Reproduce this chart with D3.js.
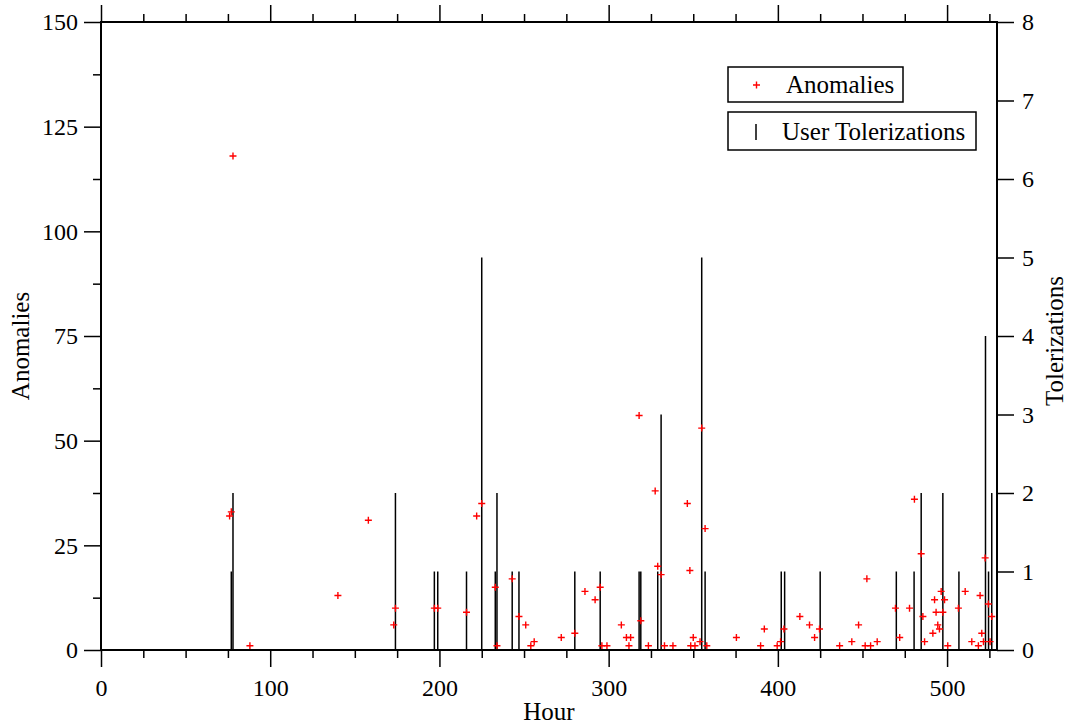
<!DOCTYPE html>
<html>
<head>
<meta charset="utf-8">
<script src="https://cdn.jsdelivr.net/npm/d3@7"></script>
<style>
  body { margin: 0; background: #fff; }
  svg text { font-family: "Liberation Serif", "DejaVu Serif", serif; fill: #000; }
</style>
</head>
<body>
<div id="chart"></div>
<script>
// anomalies per hour (left axis)
const anomalyHours = [76, 77, 78, 88, 140, 158, 173, 174, 197, 199, 216, 222, 225, 233, 234, 243, 247, 251, 254, 256,
  272, 280, 286, 292, 295, 296, 299, 307.5, 310.5, 312, 313, 318, 319, 323.5, 327.5, 329, 331, 333, 338,
  346.5, 348, 348.5, 350, 351, 354, 355, 357, 358, 375.5, 389.8, 392, 399.6, 401.6, 403.6, 413, 418.7, 421.7,
  424.6, 436.5, 443.7, 447.7, 451.6, 452.6, 454.8, 458.7, 469.5, 472, 477.8, 480.7, 484.7, 485.7, 486.7,
  491.6, 492.6, 493.5, 494.5, 495.5, 496.5, 497.5, 498.5, 500.4, 506.7, 510.7, 514.6, 518.5, 519.5, 520.5,
  521.5, 522.5, 524.4, 525.4, 526.4];
const anomalyCounts = [32, 33, 118, 1, 13, 31, 6, 10, 10, 10, 9, 32, 35, 15, 1, 17, 8, 6, 1, 2,
  3, 4, 14, 12, 15, 1, 1, 6, 3, 1, 3, 56, 7, 1, 38, 20, 18, 1, 1,
  35, 19, 1, 3, 1, 2, 53, 29, 1, 3, 1, 5, 1, 2, 5, 8, 6, 3,
  5, 1, 2, 6, 1, 17, 1, 2, 10, 3, 10, 36, 23, 8, 2,
  4, 12, 9, 6, 5, 14, 9, 12, 1, 10, 14, 2, 1, 13, 4,
  2, 22, 11, 2, 8];

// user tolerizations per hour (right axis)
const tolHours = [77, 78, 174, 197, 199, 216, 225, 233, 234, 243, 247, 280, 295, 318, 319, 329, 331,
  355, 357, 402, 404, 425, 470, 480.5, 484.7, 497.5, 507, 522.7, 524.5, 526.4];
const tolCounts = [1, 2, 2, 1, 1, 1, 5, 1, 2, 1, 1, 1, 1, 1, 1, 1, 3,
  5, 1, 1, 1, 1, 1, 1, 2, 2, 1, 4, 1, 2];

const xMajor = [0, 100, 200, 300, 400, 500];
const yLeftMajor = [0, 25, 50, 75, 100, 125, 150];
const yRightMajor = [0, 1, 2, 3, 4, 5, 6, 7, 8];

const W = 1070, H = 725;
const margin = { top: 22, right: 73, bottom: 75, left: 101 };
const width = W - margin.left - margin.right,
      height = H - margin.top - margin.bottom;

const svg = d3.select("#chart").append("svg")
  .attr("width", W).attr("height", H);
const g = svg.append("g")
  .attr("transform", "translate(" + margin.left + "," + margin.top + ")");

const x = d3.scaleLinear().domain([0, 529.5]).range([0, width]);
const yL = d3.scaleLinear().domain([0, 150]).range([height, 0]);
const yR = d3.scaleLinear().domain([0, 8]).range([height, 0]);

const minorX = d3.range(0, 529, 25).filter(v => v % 100 !== 0);
const minorY = d3.range(0, 150, 12.5).filter(v => v % 25 !== 0);

function styleAxis(sel, fs) {
  sel.select(".domain").remove();
  sel.selectAll(".tick line").attr("stroke", "#000").attr("stroke-width", 1.5);
  sel.selectAll("text").style("font-size", fs + "px");
}

// minor ticks
g.append("g").attr("transform", "translate(0," + height + ")")
  .call(d3.axisBottom(x).tickValues(minorX).tickSize(8).tickFormat(""))
  .call(s => styleAxis(s, 22));
g.append("g")
  .call(d3.axisTop(x).tickValues(minorX).tickSize(8).tickFormat(""))
  .call(s => styleAxis(s, 22));
g.append("g")
  .call(d3.axisLeft(yL).tickValues(minorY).tickSize(8).tickFormat(""))
  .call(s => styleAxis(s, 22));

// major ticks
g.append("g").attr("transform", "translate(0," + height + ")")
  .call(d3.axisBottom(x).tickValues(xMajor).tickSize(17).tickPadding(12).tickFormat(d3.format("d")))
  .call(s => styleAxis(s, 24));
g.append("g")
  .call(d3.axisTop(x).tickValues(xMajor).tickSize(17).tickFormat(""))
  .call(s => styleAxis(s, 24));
g.append("g")
  .call(d3.axisLeft(yL).tickValues(yLeftMajor).tickSize(17).tickPadding(6).tickFormat(d3.format("d")))
  .call(s => styleAxis(s, 24));
g.append("g").attr("transform", "translate(" + width + ",0)")
  .call(d3.axisRight(yR).tickValues(yRightMajor).tickSize(17).tickPadding(8).tickFormat(d3.format("d")))
  .call(s => styleAxis(s, 24));

// tolerization sticks
g.selectAll(".tol").data(tolHours.map((h, i) => [h, tolCounts[i]]))
  .enter().append("line")
  .attr("class", "tol")
  .attr("x1", d => x(d[0])).attr("x2", d => x(d[0]))
  .attr("y1", yR(0)).attr("y2", d => yR(d[1]))
  .attr("stroke", "#000").attr("stroke-width", 1.5);

// anomaly markers
const arm = 3.5;
g.selectAll(".anom").data(anomalyHours.map((h, i) => [h, anomalyCounts[i]]))
  .enter().append("path")
  .attr("class", "anom")
  .attr("d", d => {
    const px = x(d[0]), py = yL(d[1]);
    return "M" + (px - arm) + "," + py + "H" + (px + arm) + "M" + px + "," + (py - arm) + "V" + (py + arm);
  })
  .attr("stroke", "#ff0000").attr("stroke-width", 1.4).attr("fill", "none");

// frame
g.append("rect").attr("width", width).attr("height", height)
  .attr("fill", "none").attr("stroke", "#000").attr("stroke-width", 2);

// axis titles
svg.append("text").attr("x", 549).attr("y", 720)
  .attr("text-anchor", "middle").style("font-size", "25px").text("Hour");
svg.append("text").attr("transform", "translate(29," + (margin.top + height / 2 + 10) + ") rotate(-90)")
  .attr("text-anchor", "middle").style("font-size", "25px").text("Anomalies");
svg.append("text").attr("transform", "translate(1063," + (margin.top + height / 2 + 5) + ") rotate(-90)")
  .attr("text-anchor", "middle").style("font-size", "25px").text("Tolerizations");

// legend
const leg1 = svg.append("g").attr("transform", "translate(728,67)");
leg1.append("rect").attr("width", 175).attr("height", 35)
  .attr("fill", "#fff").attr("stroke", "#000").attr("stroke-width", 1.5);
leg1.append("path").attr("d", "M25,18H32M28.5,14.5V21.5")
  .attr("stroke", "#ff0000").attr("stroke-width", 1.4);
leg1.append("text").attr("x", 58).attr("y", 26).style("font-size", "25px").text("Anomalies");

const leg2 = svg.append("g").attr("transform", "translate(728,112)");
leg2.append("rect").attr("width", 248).attr("height", 38)
  .attr("fill", "#fff").attr("stroke", "#000").attr("stroke-width", 1.5);
leg2.append("line").attr("x1", 28).attr("x2", 28).attr("y1", 12).attr("y2", 28)
  .attr("stroke", "#000").attr("stroke-width", 1.5);
leg2.append("text").attr("x", 54).attr("y", 28).style("font-size", "25px").text("User Tolerizations");
</script>
</body>
</html>
